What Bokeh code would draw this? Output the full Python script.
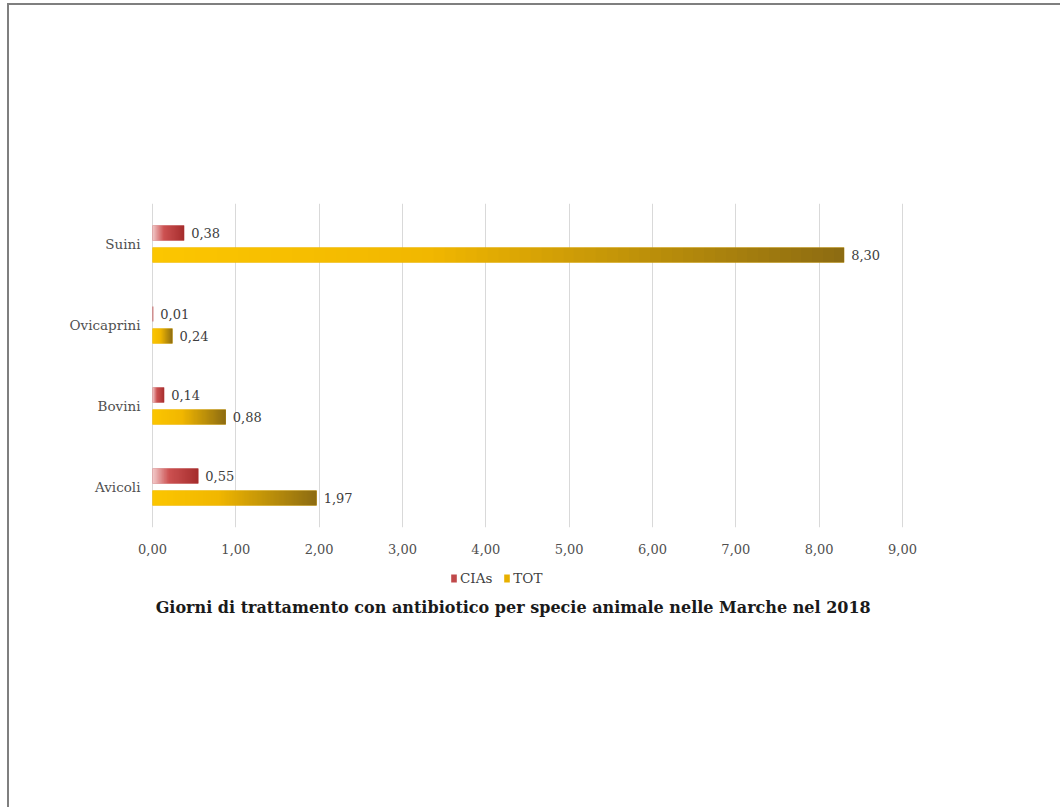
import numpy as np
from bokeh.plotting import figure
from bokeh.layouts import column
from bokeh.models import (ColumnDataSource, Range1d, FixedTicker,
                          Legend, LegendItem)
from bokeh.core.properties import value
from bokeh.embed import file_html
from bokeh.resources import INLINE

# ---------------- data ----------------
species = ["Avicoli", "Bovini", "Ovicaprini", "Suini"]
cias = [0.55, 0.14, 0.01, 0.38]
tot = [1.97, 0.88, 0.24, 8.30]
series_names = ["CIAs", "TOT"]
x_tick_values = [0, 1, 2, 3, 4, 5, 6, 7, 8, 9]
x_tick_labels = ["0,00", "1,00", "2,00", "3,00", "4,00",
                 "5,00", "6,00", "7,00", "8,00", "9,00"]
title_text = "Giorni di trattamento con antibiotico per specie animale nelle Marche nel 2018"

FONT = "DejaVu Serif"
CIAS_STOPS = [(0.0, "#f3cccc"), (0.35, "#cd5252"), (1.0, "#a32b2b")]
TOT_STOPS = [(0.0, "#fcc600"), (0.4, "#f1b700"), (1.0, "#8c6b12")]
CIAS_BASE = "#c0494a"
TOT_BASE = "#e8b000"
OFF = 0.136
BAR_H = 0.185


def hex2rgb(h):
    h = h.lstrip("#")
    return np.array([int(h[i:i + 2], 16) for i in (0, 2, 4)], dtype=float)


def grad(stops, t):
    for (t0, c0), (t1, c1) in zip(stops[:-1], stops[1:]):
        if t <= t1:
            f = (t - t0) / (t1 - t0)
            return hex2rgb(c0) * (1 - f) + hex2rgb(c1) * f
    return hex2rgb(stops[-1][1])


def gradient_image(stops, n=64):
    img = np.zeros((1, n), dtype=np.uint32)
    view = img.view(dtype=np.uint8).reshape((1, n, 4))
    for k in range(n):
        c = grad(stops, (k + 0.5) / n)
        view[0, k, 0:3] = np.round(c).astype(np.uint8)
        view[0, k, 3] = 255
    return img


W = 1051
H1 = 560
H2 = 242

p = figure(width=W, height=H1,
           x_range=Range1d(-0.012, 9.012), y_range=Range1d(-0.5, 3.5),
           output_backend="svg", toolbar_location=None,
           min_border_left=142, min_border_right=157,
           min_border_top=198, min_border_bottom=38,
           background_fill_color="white", border_fill_color="white")
p.outline_line_color = None

# axes / grid
p.xaxis.ticker = FixedTicker(ticks=x_tick_values)
p.xaxis.major_label_overrides = {t: l for t, l in zip(x_tick_values, x_tick_labels)}
p.yaxis.ticker = FixedTicker(ticks=list(range(len(species))))
p.yaxis.major_label_overrides = {i: s for i, s in enumerate(species)}
for ax in (p.xaxis, p.yaxis):
    ax.axis_line_color = None
    ax.major_tick_line_color = None
    ax.minor_tick_line_color = None
    ax.major_label_text_font = FONT
    ax.major_label_text_color = "#505050"
p.xaxis.major_label_text_font_size = "13px"
p.yaxis.major_label_text_font_size = "13.5px"
p.xaxis.major_label_standoff = 10
p.yaxis.major_label_standoff = 5

p.xgrid.ticker = FixedTicker(ticks=x_tick_values)
p.xgrid.grid_line_color = "#d9d9d9"
p.ygrid.grid_line_color = None

# bars: solid base + smooth gradient image on top
ys_c = [i + OFF for i in range(len(cias))]
ys_t = [i - OFF for i in range(len(tot))]
p.hbar(y=ys_c, left=0, right=cias, height=BAR_H,
       fill_color=CIAS_BASE, line_color=None)
p.hbar(y=ys_t, left=0, right=tot, height=BAR_H,
       fill_color=TOT_BASE, line_color=None)

img_c = gradient_image(CIAS_STOPS)
img_t = gradient_image(TOT_STOPS)
p.image_rgba(image=[img_c] * len(cias), x=[0] * len(cias),
             y=[y - BAR_H / 2 for y in ys_c], dw=cias, dh=[BAR_H] * len(cias))
p.image_rgba(image=[img_t] * len(tot), x=[0] * len(tot),
             y=[y - BAR_H / 2 for y in ys_t], dw=tot, dh=[BAR_H] * len(tot))

# value labels
fmt = lambda v: f"{v:.2f}".replace(".", ",")
lab = ColumnDataSource(dict(
    x=list(cias) + list(tot), y=ys_c + ys_t,
    text=[fmt(v) for v in cias] + [fmt(v) for v in tot]))
p.text(x="x", y="y", text="text", source=lab, x_offset=7,
       text_baseline="middle", text_align="left",
       text_font=value(FONT), text_font_size="13px", text_color="#404040")

# ---------- lower panel: legend + title ----------
q = figure(width=W, height=H2, x_range=Range1d(0, W), y_range=Range1d(H2, 0),
           output_backend="svg", toolbar_location=None,
           min_border=0, background_fill_color="white", border_fill_color="white")
q.outline_line_color = None
q.axis.visible = False
q.grid.visible = False

# hidden renderers that only provide the legend swatches
lc = q.hbar(y=[0], left=[0], right=[cias[0]], height=1,
            fill_color=CIAS_BASE, line_color=None, visible=False)
lt = q.hbar(y=[0], left=[0], right=[tot[0]], height=1,
            fill_color=TOT_BASE, line_color=None, visible=False)
legend = Legend(items=[LegendItem(label=series_names[0], renderers=[lc]),
                       LegendItem(label=series_names[1], renderers=[lt])],
                location=(299, 221), orientation="horizontal",
                glyph_width=7, glyph_height=10, label_height=12,
                label_text_font=FONT, label_text_font_size="13.5px",
                label_text_color="#404040", label_standoff=3,
                background_fill_alpha=0, border_line_alpha=0,
                padding=0, margin=0, spacing=11)
q.add_layout(legend)

q.text(x=[W / 2 - 20], y=[42], text=[title_text], text_align="center",
       text_baseline="middle", text_font=value(FONT), text_font_size="16px",
       text_font_style="bold", text_color="#1a1a1a")

layout = column(p, q, spacing=0)
layout.styles = {"margin-left": "7px", "margin-top": "3px",
                 "border-left": "2px solid #7f7f7f",
                 "border-top": "2px solid #7f7f7f"}

open("out.html", "w").write(file_html(layout, INLINE))
